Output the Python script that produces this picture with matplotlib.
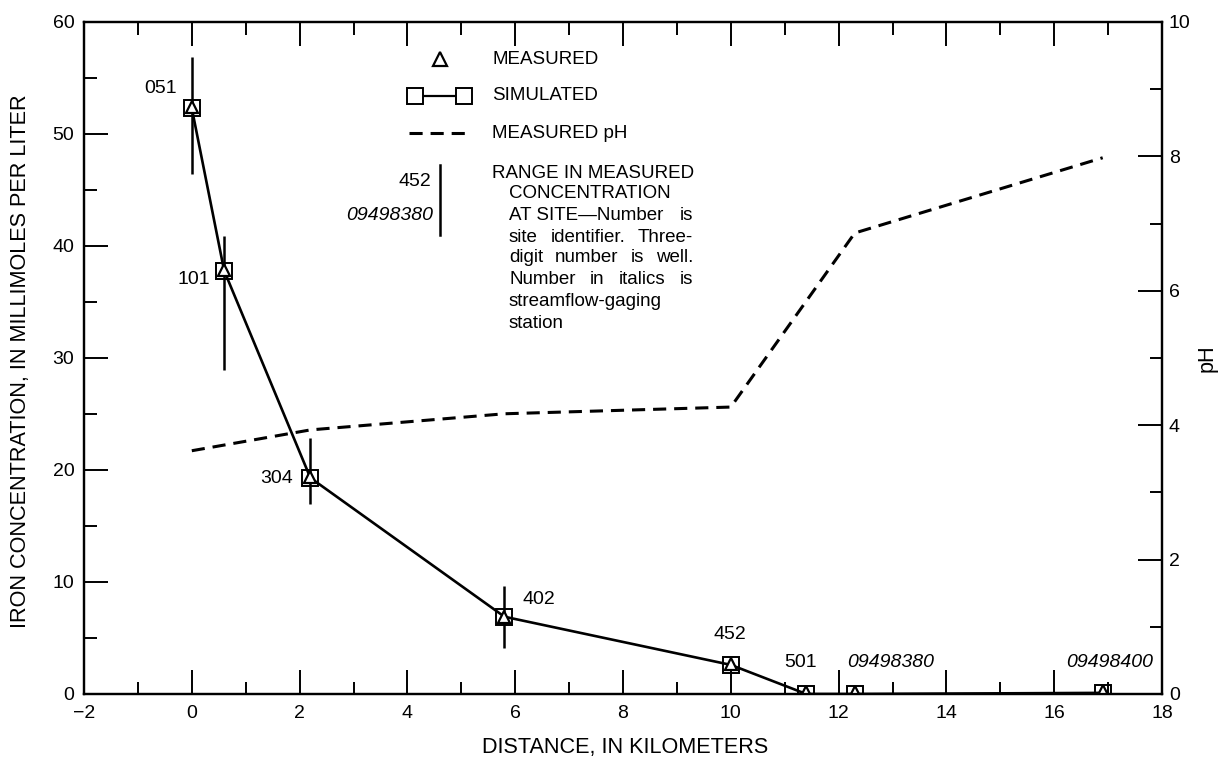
import matplotlib
matplotlib.use("Agg")
import matplotlib.pyplot as plt
from matplotlib.lines import Line2D

plt.rcParams['font.family'] = ['Liberation Sans', 'DejaVu Sans']

# ---------------- data ----------------
distance_km = [0.0, 0.6, 2.2, 5.8, 10.0, 11.4, 12.3, 16.9]
measured_fe = [52.4, 37.9, 19.4, 6.9, 2.7, 0.15, 0.15, 0.25]
simulated_fe = [52.3, 37.8, 19.3, 6.9, 2.6, 0.0, 0.0, 0.1]
range_x = [0.0, 0.6, 2.2, 5.8]
range_low = [46.4, 28.9, 17.0, 4.1]
range_high = [56.9, 40.9, 22.9, 9.6]
site_ids = ["051", "101", "304", "402", "452", "501", "09498380", "09498400"]
site_italic = [False, False, False, False, False, False, True, True]
label_x = [-0.27, 0.34, 1.88, 6.13, 9.99, 11.3, 12.16, 17.83]
label_y = [54.1, 37.0, 19.2, 8.4, 5.3, 2.8, 2.8, 2.8]
label_ha = ["right", "right", "right", "left", "center", "center", "left", "right"]
ph_x = [0.0, 2.2, 5.8, 10.0, 12.3, 16.9]
ph_y = [3.62, 3.93, 4.17, 4.27, 6.86, 7.98]

W, H = 1227, 761
fig = plt.figure(figsize=(W / 100, H / 100), dpi=100)
L, R, T, B = 84, 1162, 22, 694
ax = fig.add_axes([L / W, (H - B) / H, (R - L) / W, (B - T) / H])
ax2 = ax.twinx()

FS = 13.5      # legend text
FSN = 14       # numbers
FSL = 15.6     # axis titles
lw_sp = 1.6

# ---------------- axes styling ----------------
ax.set_xlim(-2, 18)
ax.set_ylim(0, 60)
ax2.set_ylim(0, 10)
ax.set_xticks(range(-2, 19, 2))
ax.set_xticks(range(-1, 19, 2), minor=True)
ax.set_yticks(range(0, 61, 10))
ax.set_yticks(range(5, 60, 10), minor=True)
ax2.set_yticks(range(0, 11, 2))
ax2.set_yticks(range(1, 10, 2), minor=True)
ax.set_xticklabels([("\u22122" if v < 0 else str(v)) for v in range(-2, 19, 2)])

ax.tick_params(axis='x', which='both', direction='in', top=True, bottom=True,
               labelsize=FSN, pad=8, width=1.4)
ax.tick_params(axis='y', which='both', direction='in', left=True, right=False,
               labelsize=FSN, pad=7, width=1.4)
ax.tick_params(which='major', length=17)
ax.tick_params(which='minor', length=9)
ax2.tick_params(axis='y', which='both', direction='in', labelsize=FSN, pad=5, width=1.4)
ax2.tick_params(which='major', length=17)
ax2.tick_params(which='minor', length=9)
for a in (ax, ax2):
    for s in a.spines.values():
        s.set_linewidth(lw_sp)

# ---------------- data drawing ----------------
ax.vlines(range_x, range_low, range_high, color='black', lw=1.8, zorder=3)
ax.plot(distance_km, simulated_fe, color='black', lw=1.9, marker='s', ms=11.5,
        mfc='none', mec='black', mew=1.4, zorder=4)
ax.plot(distance_km, measured_fe, ls='none', marker='^', ms=8.5, mfc='white',
        mec='black', mew=1.6, zorder=5)
ax2.plot(ph_x, ph_y, color='black', lw=2.2, ls=(0, (4.3, 2.6)))

for x, y, s, it, ha in zip(label_x, label_y, site_ids, site_italic, label_ha):
    ax.text(x, y, s, ha=ha, va='center', fontsize=FSN,
            style='italic' if it else 'normal')

# ---------------- axis labels ----------------
fig.text(625 / W, 1 - 748 / H, "DISTANCE, IN KILOMETERS", ha='center', va='center', fontsize=FSL)
fig.text(21 / W, 1 - 361 / H, "IRON CONCENTRATION, IN MILLIMOLES PER LITER",
         ha='center', va='center', rotation=90, fontsize=FSL)
fig.text(1207 / W, 1 - 358 / H, "pH", ha='center', va='center', rotation=90, fontsize=FSL)

# ---------------- legend (pixel placement) ----------------
def fx(px):
    return px / W

def fy(py):
    return 1 - py / H

fig.add_artist(Line2D([fx(440)], [fy(59)], marker='^', ms=9.5, mfc='white', mec='black',
                      mew=1.6, ls='none', transform=fig.transFigure))
fig.add_artist(Line2D([fx(415), fx(464)], [fy(96), fy(96)], color='black', lw=1.6,
                      marker='s', ms=12, mfc='white', mec='black', mew=1.4,
                      transform=fig.transFigure))
fig.add_artist(Line2D([fx(409), fx(472)], [fy(133), fy(133)], color='black', lw=2.2,
                      ls=(0, (4.3, 2.6)), transform=fig.transFigure))
fig.add_artist(Line2D([fx(440), fx(440)], [fy(165), fy(235)], color='black', lw=1.8,
                      transform=fig.transFigure))
fig.text(fx(492), fy(59), "MEASURED", ha='left', va='center', fontsize=FS)
fig.text(fx(492), fy(96), "SIMULATED", ha='left', va='center', fontsize=FS)
fig.text(fx(492), fy(133), "MEASURED pH", ha='left', va='center', fontsize=FS)
fig.text(fx(431), fy(182), "452", ha='right', va='center', fontsize=FSN)
fig.text(fx(433), fy(215), "09498380", ha='right', va='center', fontsize=FSN, style='italic')

fig.text(fx(492), fy(173), "RANGE IN MEASURED", ha='left', va='center', fontsize=FS)
fig.text(fx(509), fy(194), "CONCENTRATION", ha='left', va='center', fontsize=FS)

para = [("AT SITE\u2014Number is", 215, True),
        ("site identifier.  Three-", 237, True),
        ("digit number is well.", 258, True),
        ("Number in italics is", 279, True),
        ("streamflow-gaging", 301, False),
        ("station", 323, False)]
left_px, right_px = 509, 693
renderer = fig.canvas.get_renderer()
for line, py, justify in para:
    if not justify:
        fig.text(fx(left_px), fy(py), line, ha='left', va='center', fontsize=FS)
        continue
    if "\u2014" in line:
        words = ["AT SITE\u2014Number", "is"]
    else:
        words = line.split()
    arts = [fig.text(0, fy(py), w, ha='left', va='center', fontsize=FS) for w in words]
    widths = [a.get_window_extent(renderer).width for a in arts]
    gap = (right_px - left_px - sum(widths)) / max(len(words) - 1, 1)
    xcur = left_px
    for a, wdt in zip(arts, widths):
        a.set_x(fx(xcur))
        xcur += wdt + gap

fig.savefig("out.png", dpi=100)
